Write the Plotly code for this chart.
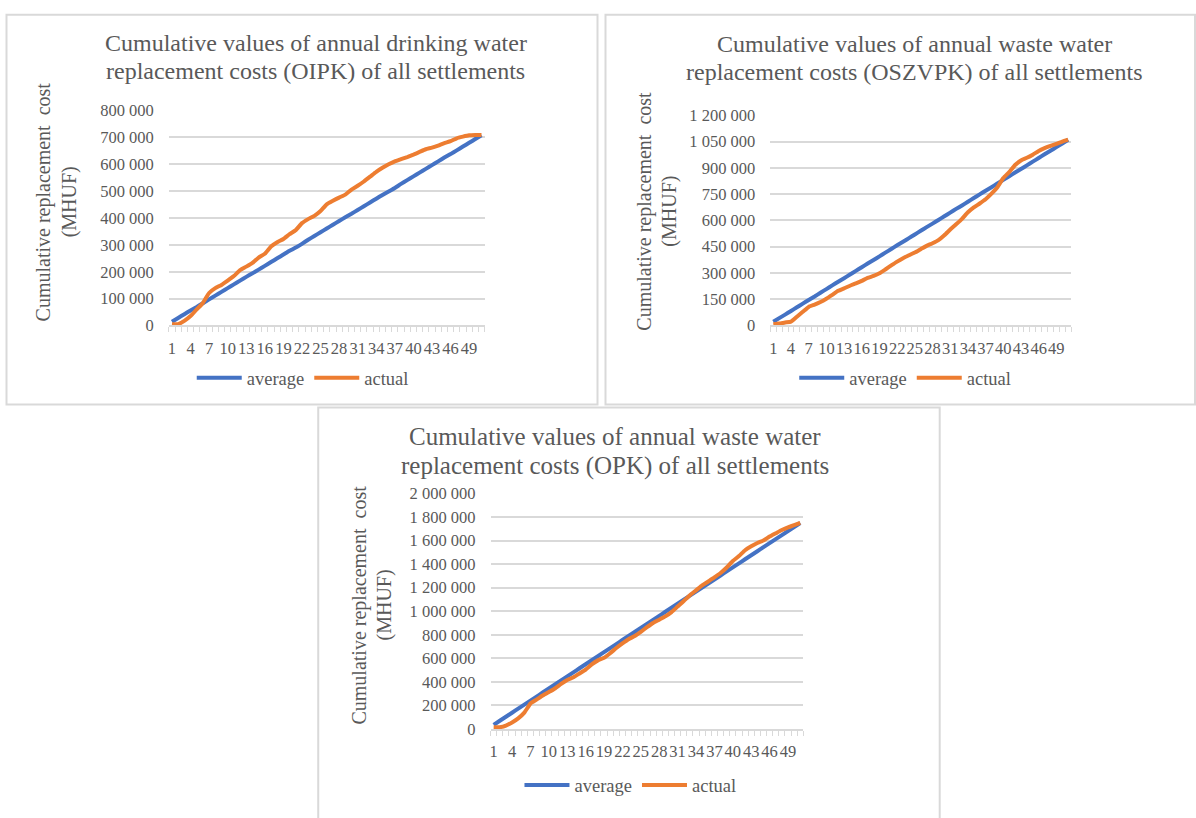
import plotly.graph_objects as go

# Years 1..51 on the category axis
years = list(range(1, 52))

# Drinking water (OIPK), cumulative replacement cost in MHUF
oipk_average = [14000, 28000, 42000, 56000, 69000, 83000, 97000, 111000, 125000, 139000,
                153000, 167000, 181000, 194000, 208000, 222000, 236000, 250000, 264000, 278000,
                290000, 304000, 319000, 333000, 347000, 361000, 375000, 389000, 403000, 416000,
                430000, 444000, 458000, 472000, 486000, 499000, 512000, 527000, 541000, 555000,
                569000, 583000, 597000, 611000, 625000, 638000, 652000, 666000, 680000, 694000,
                708000]
oipk_actual = [5000, 5000, 17000, 35000, 60000, 84000, 121000, 139000, 151000, 167000,
               184000, 206000, 219000, 233000, 253000, 267000, 294000, 310000, 322000, 340000,
               355000, 381000, 396000, 408000, 426000, 451000, 464000, 476000, 487000, 506000,
               520000, 536000, 554000, 572000, 587000, 600000, 611000, 619000, 627000, 636000,
               646000, 656000, 662000, 670000, 679000, 686000, 697000, 703000, 708000, 709000,
               709000]

# Waste water (OSZVPK)
oszvpk_average = [21000, 42000, 62000, 83000, 104000, 125000, 146000, 166000, 187000, 208000,
                  229000, 250000, 270000, 291000, 312000, 333000, 354000, 374000, 395000, 416000,
                  437000, 458000, 478000, 499000, 520000, 541000, 562000, 582000, 603000, 624000,
                  645000, 666000, 686000, 707000, 728000, 749000, 770000, 790000, 811000, 832000,
                  853000, 874000, 894000, 915000, 936000, 957000, 978000, 998000, 1019000, 1040000,
                  1061000]
oszvpk_actual = [7000, 11000, 17000, 22000, 50000, 78000, 106000, 119000, 134000, 153000,
                 175000, 198000, 212000, 227000, 240000, 255000, 272000, 283000, 298000, 320000,
                 343000, 365000, 384000, 401000, 417000, 436000, 455000, 470000, 488000, 516000,
                 548000, 578000, 609000, 647000, 675000, 697000, 721000, 753000, 790000, 842000,
                 876000, 917000, 943000, 958000, 976000, 997000, 1013000, 1026000, 1038000, 1051000,
                 1062000]

# Waste water (OPK)
opk_average = [34000, 69000, 103000, 137000, 172000, 206000, 240000, 274000, 309000, 343000,
               377000, 412000, 446000, 480000, 515000, 549000, 583000, 617000, 652000, 686000,
               720000, 755000, 789000, 823000, 858000, 892000, 926000, 960000, 995000, 1029000,
               1063000, 1098000, 1132000, 1166000, 1201000, 1235000, 1269000, 1303000, 1338000, 1372000,
               1406000, 1441000, 1475000, 1509000, 1544000, 1578000, 1612000, 1646000, 1681000, 1715000,
               1749000]
opk_actual = [14000, 14000, 28000, 55000, 89000, 138000, 216000, 249000, 283000, 313000,
              343000, 382000, 416000, 438000, 471000, 504000, 548000, 582000, 604000, 643000,
              687000, 726000, 762000, 789000, 825000, 864000, 900000, 928000, 956000, 992000,
              1039000, 1086000, 1136000, 1177000, 1219000, 1252000, 1288000, 1324000, 1371000, 1427000,
              1468000, 1518000, 1551000, 1579000, 1601000, 1634000, 1662000, 1690000, 1712000, 1731000,
              1751000]

series_names = ["average", "actual"]
colors = ["#4472C4", "#ED7D31"]

W, H = 1196, 818
FONT = "Liberation Serif"
TEXT = "#595959"
GRID = "#d9d9d9"


def fx(x):
    return x / W


def fy(y):
    return 1 - y / H


panels = [
    dict(avg=oipk_average, act=oipk_actual, ymax=800000, dtick=100000,
         xdom=(168, 484), ydom=(324, 104),
         title=["Cumulative values of annual drinking water",
                "replacement costs (OIPK) of all settlements"],
         tx=315, ty=(35, 63), tsize=24,
         ax=(42, 68), ay=197,
         frame=(5.5, 6, 597, 405),
         leg=(302, 378)),
    dict(avg=oszvpk_average, act=oszvpk_actual, ymax=1200000, dtick=150000,
         xdom=(770, 1071), ydom=(324, 109),
         title=["Cumulative values of annual waste water",
                "replacement costs (OSZVPK) of all settlements"],
         tx=914, ty=(36, 64), tsize=24,
         ax=(644, 669), ay=207,
         frame=(605, 6, 1195, 405),
         leg=(905, 378)),
    dict(avg=opk_average, act=opk_actual, ymax=2000000, dtick=200000,
         xdom=(490, 803), ydom=(737, 496),
         title=["Cumulative values of annual waste water",
                "replacement costs (OPK) of all settlements"],
         tx=615, ty=(438, 468), tsize=25,
         ax=(359, 384), ay=610,
         frame=(317.5, 408, 939.5, 830),
         leg=(630, 795)),
]

fig = go.Figure()
layout = dict(
    width=W, height=H,
    margin=dict(l=0, r=0, t=0, b=0),
    paper_bgcolor="white", plot_bgcolor="white",
    separators=". ",
    font=dict(family=FONT, color=TEXT),
    annotations=[], shapes=[],
)

for i, p in enumerate(panels):
    n = "" if i == 0 else str(i + 1)
    leg = "legend" + n
    for name, vals, col in zip(series_names, [p["avg"], p["act"]], colors):
        fig.add_trace(go.Scatter(
            x=years, y=vals, name=name, mode="lines",
            line=dict(color=col, width=4, shape="spline", smoothing=0.4),
            xaxis="x" + n, yaxis="y" + n, legend=leg,
        ))
    layout["xaxis" + n] = dict(
        domain=[fx(p["xdom"][0]), fx(p["xdom"][1])],
        anchor="y" + n, range=[0.5, 51.5],
        tick0=1, dtick=3, ticks="", tickangle=0, showgrid=False, zeroline=False,
        showline=True, linecolor=GRID, linewidth=1.5,
        minor=dict(tick0=0.5, dtick=1, ticks="outside", ticklen=5,
                   tickcolor=GRID, tickwidth=1, showgrid=False),
        ticklabelstandoff=7,
        tickfont=dict(family=FONT, size=16.5, color=TEXT),
        fixedrange=True,
    )
    layout["yaxis" + n] = dict(
        domain=[fy(p["ydom"][0]), fy(p["ydom"][1])],
        anchor="x" + n, range=[0, p["ymax"]], dtick=p["dtick"],
        tickformat=",d", showgrid=True, gridcolor=GRID, gridwidth=1.5,
        zeroline=False, showline=False, ticks="",
        ticklabelstandoff=14,
        tickfont=dict(family=FONT, size=16.5, color=TEXT),
        fixedrange=True,
    )
    layout[leg] = dict(
        orientation="h", x=fx(p["leg"][0]), y=fy(p["leg"][1]),
        xanchor="center", yanchor="middle", xref="paper", yref="paper",
        font=dict(family=FONT, size=18.5, color=TEXT),
        bgcolor="rgba(0,0,0,0)", itemwidth=45, tracegroupgap=0,
    )
    for line, ty in zip(p["title"], p["ty"]):
        layout["annotations"].append(dict(
            text=line, x=fx(p["tx"]), y=fy(ty), xref="paper", yref="paper",
            xanchor="center", yanchor="middle", showarrow=False,
            font=dict(family=FONT, size=p["tsize"], color=TEXT),
        ))
    for line, axx in zip(["Cumulative replacement  cost", "(MHUF)"], p["ax"]):
        layout["annotations"].append(dict(
            text=line, x=fx(axx), y=fy(p["ay"]), xref="paper", yref="paper",
            xanchor="center", yanchor="middle", showarrow=False, textangle=-90,
            font=dict(family=FONT, size=20, color=TEXT),
        ))
    x0, y0, x1, y1 = p["frame"]
    layout["shapes"].append(dict(
        type="rect", xref="paper", yref="paper",
        x0=fx(x0), x1=fx(x1), y0=fy(y1), y1=fy(y0),
        line=dict(color=GRID, width=2), fillcolor="rgba(0,0,0,0)", layer="below",
    ))

fig.update_layout(**layout)
fig.write_html("out.html")
